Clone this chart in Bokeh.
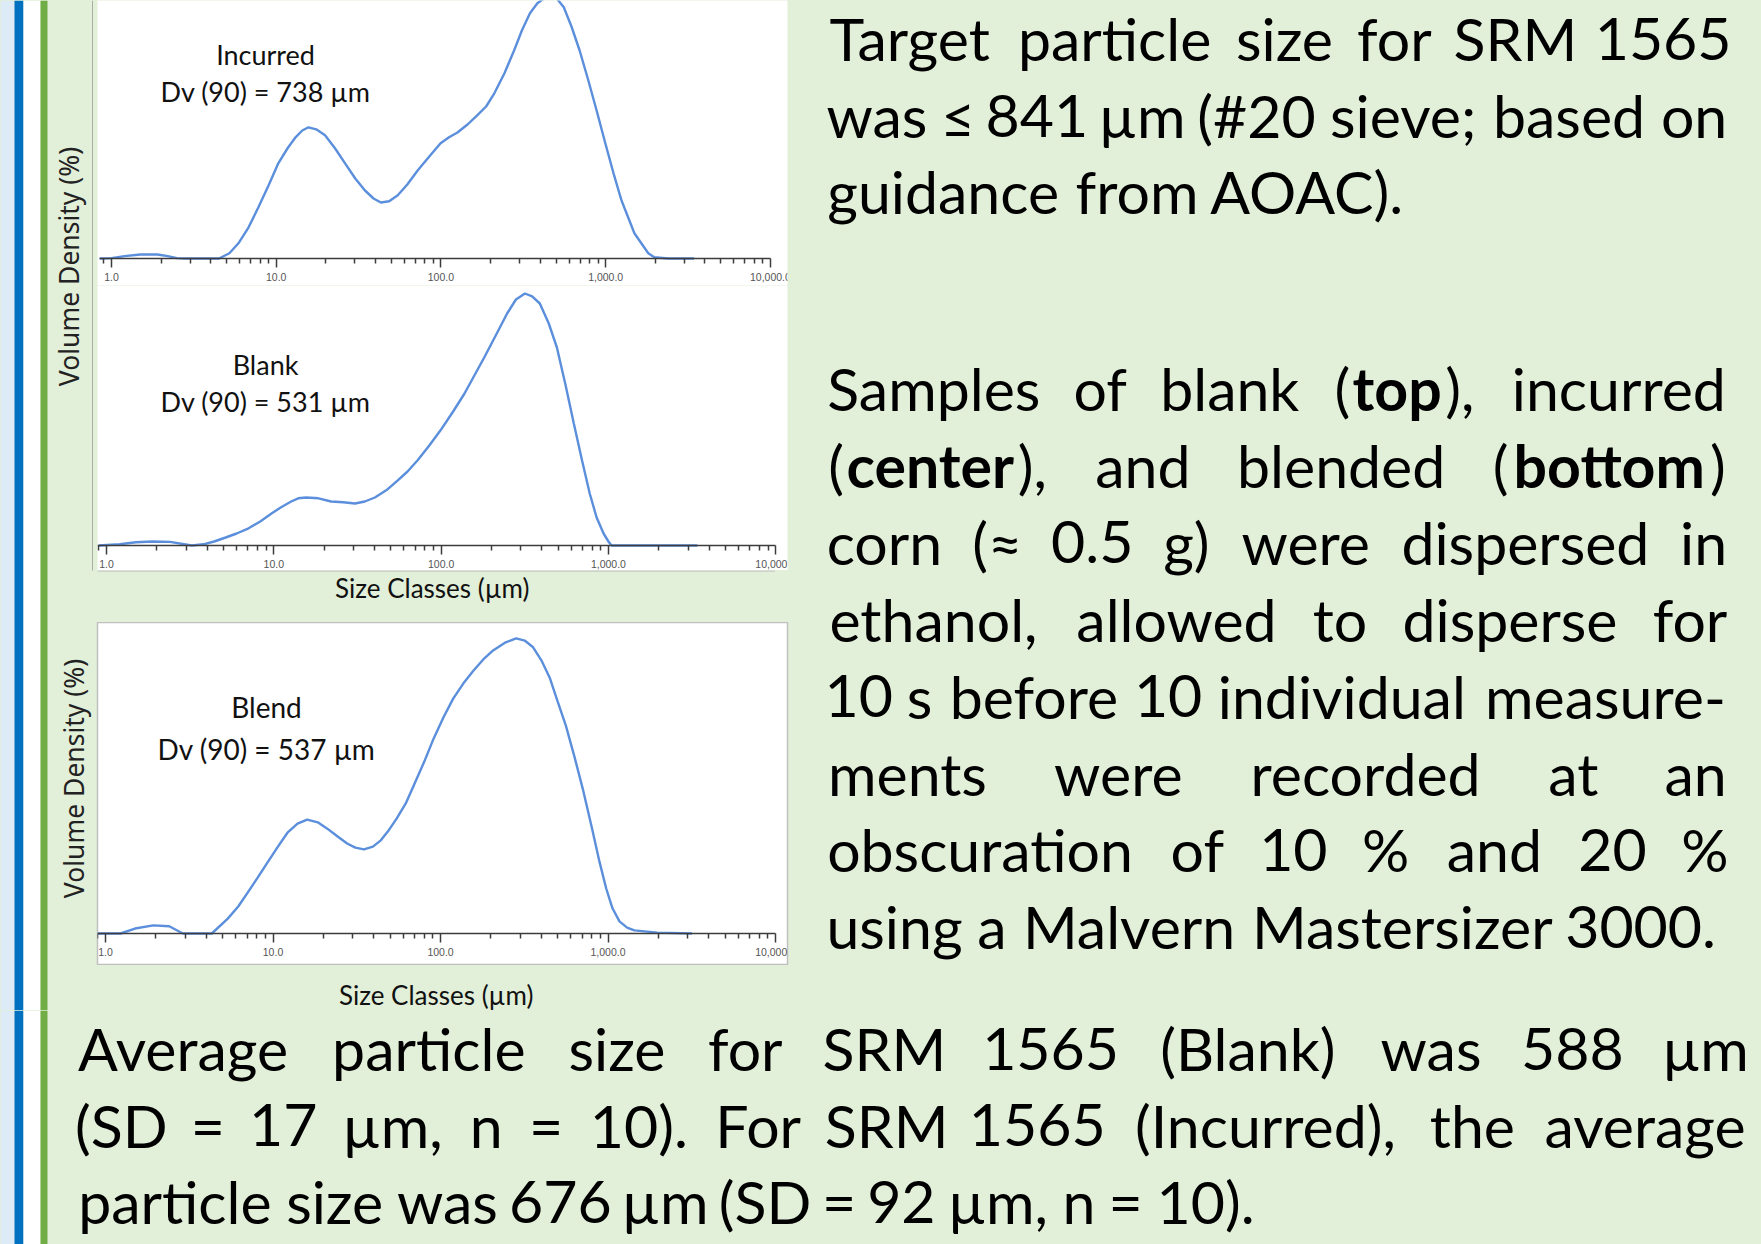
import math
from bokeh.plotting import figure
from bokeh.models import Range1d, ColumnDataSource, FixedTicker, NumeralTickFormatter
from bokeh.layouts import column, row
from bokeh.core.properties import value
from bokeh.embed import file_html
from bokeh.resources import INLINE

# ---------------- data ----------------
incurred_size = [0.85, 1.0, 1.2, 1.5, 1.9, 2.2, 2.5, 2.8, 4.5, 5.2, 5.9, 6.8, 7.8, 9.0, 10.3, 11.7,
                 13.1, 14.4, 15.7, 17.5, 19.8, 22.8, 26.2, 30.2, 34.6, 39.0, 43.2, 48.5, 54.7, 62.5,
                 72.2, 85, 99.5, 112, 126, 145, 166, 188, 211, 243, 278, 310, 347, 385, 422, 459,
                 505, 557, 620, 695, 785, 881, 995, 1116, 1248, 1494, 1814, 1973, 2400, 3442]
incurred_vd = [0, 0.01, 0.06, 0.10, 0.10, 0.06, 0.01, 0, 0, 0.13, 0.38, 0.78, 1.28, 1.83, 2.38, 2.75,
               3.03, 3.20, 3.28, 3.23, 3.08, 2.75, 2.38, 2.00, 1.70, 1.50, 1.40, 1.43, 1.58, 1.85,
               2.20, 2.55, 2.88, 3.03, 3.15, 3.35, 3.58, 3.80, 4.13, 4.63, 5.20, 5.70, 6.13, 6.38, 6.50, 6.58,
               6.50, 6.28, 5.80, 5.20, 4.45, 3.70, 2.88, 2.13, 1.45, 0.63, 0.13, 0.03, 0, 0]

blank_size = [0.9, 1.2, 1.5, 1.88, 2.4, 3.24, 3.8, 4.4, 5.16, 6.0, 7.07, 8.3, 9.69, 11.0, 12.7, 14.0,
              15.6, 18.5, 22.0, 26.0, 30.6, 35.0, 40.2, 47, 55.1, 63, 72.4, 85, 99.2, 118, 138, 158,
              181, 212, 248, 280, 317, 350, 389, 440, 492, 555, 621, 695, 773, 850, 935, 1000, 1043, 3400]
blank_vd = [0, 0.03, 0.08, 0.10, 0.09, 0, 0.03, 0.10, 0.20, 0.30, 0.43, 0.60, 0.80, 0.95, 1.10, 1.18,
            1.20, 1.18, 1.10, 1.08, 1.05, 1.10, 1.20, 1.38, 1.63, 1.85, 2.13, 2.50, 2.88, 3.35, 3.80, 4.25,
            4.70, 5.25, 5.80, 6.15, 6.30, 6.23, 6.05, 5.55, 4.95, 4.00, 3.05, 2.13, 1.30, 0.70, 0.30, 0.10, 0, 0]

blend_size = [0.9, 1.23, 1.5, 1.93, 2.4, 2.9, 4.31, 5.37, 6.2, 7.06, 8.1, 9.28, 10.7, 12.2, 14.0, 16.0,
              18.5, 21.1, 24.2, 27.7, 31, 34.9, 39.5, 44.0, 49, 54.8, 62, 69.2, 80, 90.9, 104, 119,
              137, 157, 180, 206, 245, 283, 318, 357, 400, 450, 500, 560, 630, 706, 795, 891, 975,
              1063, 1170, 1300, 1436, 1967, 3171]
blend_vd = [0, 0, 0.11, 0.18, 0.16, 0, 0, 0.33, 0.60, 0.91, 1.24, 1.58, 1.93, 2.24, 2.44, 2.53,
            2.47, 2.33, 2.16, 2.00, 1.91, 1.87, 1.93, 2.07, 2.29, 2.56, 2.89, 3.29, 3.82, 4.33, 4.80, 5.22,
            5.56, 5.84, 6.09, 6.29, 6.47, 6.56, 6.51, 6.36, 6.07, 5.67, 5.16, 4.62, 3.93, 3.22, 2.40, 1.58, 1.00,
            0.56, 0.27, 0.13, 0.07, 0.02, 0]

sample_names = ["Incurred", "Blank", "Blend"]
dv90_um = [738, 531, 537]

tick_values = [1, 10, 100, 1000, 10000]
tick_labels = ["1.0", "10.0", "100.0", "1,000.0", "10,000.0"]
minor_tick_values = [m * 10 ** d for d in range(-1, 4) for m in range(2, 10)]

x_title = "Size Classes (\u00b5m)"
y_title = "Volume Density (%)"

para1_lines = [
    "Target particle size for SRM 1565",
    "was \u2264 841 \u00b5m (#20 sieve; based on",
    "guidance from AOAC).",
]
para2_lines = [
    "Samples of blank (**top**), incurred",
    "(**center**), and blended (**bottom**)",
    "corn (\u2248 0.5 g) were dispersed in",
    "ethanol, allowed to disperse for",
    "10 s before 10 individual measure-",
    "ments were recorded at an",
    "obscuration of 10 % and 20 %",
    "using a Malvern Mastersizer 3000.",
]
para3_lines = [
    "Average particle size for SRM 1565 (Blank) was 588 \u00b5m",
    "(SD = 17 \u00b5m, n = 10). For SRM 1565 (Incurred), the average",
    "particle size was 676 \u00b5m (SD = 92 \u00b5m, n = 10).",
]

# ---------------- styles ----------------
BG = "#E2EFD9"
LIGHT_BLUE = "#DDEBF7"
BLUE = "#0070C0"
GREEN = "#70AD47"
CURVE = "#5B8FDC"
AXIS_C = "#3c3c3c"
FONT = "Lato"
BODY_PX = 59
CAL_PX = 63.5
W, H = 1761, 1244

# approximate advance widths (em) used for the justified layout
CAL = {
    'a': .479, 'b': .525, 'c': .423, 'd': .525, 'e': .498, 'f': .305, 'g': .471, 'h': .525, 'i': .229,
    'j': .239, 'k': .455, 'l': .229, 'm': .799, 'n': .525, 'o': .527, 'p': .525, 'q': .525, 'r': .349,
    's': .391, 't': .335, 'u': .525, 'v': .452, 'w': .715, 'x': .433, 'y': .453, 'z': .395,
    'A': .579, 'B': .544, 'C': .533, 'D': .615, 'E': .488, 'F': .459, 'G': .631, 'H': .623, 'I': .252,
    'K': .520, 'M': .855, 'N': .646, 'O': .662, 'R': .543, 'S': .459, 'T': .487,
    ' ': .226, '(': .303, ')': .303, '.': .252, ',': .250, ';': .268, '=': .498, '#': .498,
    '\u2264': .498, '\u2248': .498, '%': .715, '\u00b5': .525, '-': .306,
}
for d in "0123456789":
    CAL[d] = .507
CAL_B = {'t': .347, 'o': .537, 'p': .537, 'c': .418, 'e': .503, 'n': .537, 'r': .355, 'b': .537, 'm': .813}


def seg_w(t, bold):
    tot = 0.0
    for ch in t:
        if bold and ch in CAL_B:
            tot += CAL_B[ch]
        else:
            tot += CAL.get(ch, 0.5)
    return tot * CAL_PX


def layout_lines(lines, centers, left, right):
    xs, ys, texts, styles = [], [], [], []
    n = len(lines)
    for k, (line, yc) in enumerate(zip(lines, centers)):
        just = k < n - 1
        words = line.split(" ")
        wsegs = []
        for w in words:
            parts = w.split("**")
            wsegs.append([(t, i % 2 == 1) for i, t in enumerate(parts) if t])
        widths = [sum(seg_w(t, b) for t, b in s) for s in wsegs]
        if just and len(words) > 1:
            gap = (right - left - sum(widths)) / (len(words) - 1)
        else:
            gap = CAL[' '] * CAL_PX
        x = left
        for segs, wd in zip(wsegs, widths):
            sx = x
            for t, b in segs:
                sw = seg_w(t, b)
                xs.append(sx + sw / 2)
                ys.append(yc)
                texts.append(t)
                styles.append("bold" if b else "normal")
                sx += sw
            x += wd + gap
    return dict(x=xs, y=ys, text=texts, style=styles)


def plain_fig(x0, x1, y0, y1):
    p = figure(width=x1 - x0, height=y1 - y0, x_range=Range1d(x0, x1), y_range=Range1d(y1, y0),
               x_axis_location=None, y_axis_location=None, toolbar_location=None,
               output_backend="svg", min_border=0)
    p.background_fill_color = BG
    p.border_fill_color = BG
    p.outline_line_color = None
    p.grid.visible = False
    return p


def stripes(p, y0, y1):
    p.quad(left=[0], right=[14], bottom=[y1], top=[y0], color=LIGHT_BLUE, line_color=None)
    p.quad(left=[14], right=[23], bottom=[y1], top=[y0], color=BLUE, line_color=None)
    p.quad(left=[23], right=[40], bottom=[y1], top=[y0], color="white", line_color=None)
    p.quad(left=[40], right=[47], bottom=[y1], top=[y0], color=GREEN, line_color=None)


def add_body_text(p, src):
    p.text(x="x", y="y", text="text", source=ColumnDataSource(src), text_font=value(FONT),
           text_font_size=value(f"{BODY_PX}px"), text_font_style="style", text_align="center",
           text_baseline="middle", text_color="black")


def chart(sizes, vd, name, dv, height, xr, yr, bounds, borders, ann, outline=None, ann_px=27):
    p = figure(width=707, height=height, x_axis_type="log", x_range=Range1d(*xr), y_range=Range1d(*yr),
               y_axis_location=None, toolbar_location=None, output_backend="svg",
               min_border_left=borders[0], min_border_right=borders[1],
               min_border_top=borders[2], min_border_bottom=borders[3])
    p.background_fill_color = "white"
    p.border_fill_color = BG
    p.outline_line_color = outline
    p.outline_line_width = 1.5
    p.grid.visible = False
    ax = p.xaxis[0]
    ax.fixed_location = 0
    ax.bounds = bounds
    ax.ticker = FixedTicker(ticks=tick_values, minor_ticks=minor_tick_values)
    ax.formatter = NumeralTickFormatter(format="0,0.0")
    ax.major_label_overrides = {float(v): l for v, l in zip(tick_values, tick_labels)}
    ax.axis_line_color = AXIS_C
    ax.axis_line_width = 1.6
    ax.major_tick_line_color = AXIS_C
    ax.major_tick_line_width = 1.5
    ax.minor_tick_line_color = AXIS_C
    ax.minor_tick_line_width = 1.5
    ax.major_tick_in = 0
    ax.major_tick_out = 9
    ax.minor_tick_in = 0
    ax.minor_tick_out = 5
    ax.major_label_standoff = 5
    ax.major_label_text_font = "Liberation Sans"
    ax.major_label_text_font_size = "10.5px"
    ax.major_label_text_color = "#555555"
    p.line(sizes, vd, line_color=CURVE, line_width=2.4)
    p.text(x=[ann[0], ann[0]], y=[ann[1], ann[2]], text=[name, f"Dv (90) = {dv} \u00b5m"],
           text_font=value(FONT), text_font_size=value(f"{ann_px}px"), text_align="center",
           text_baseline="middle", text_color="#111111")
    return p


# ---------------- charts ----------------
c1 = chart(incurred_size, incurred_vd, sample_names[0], dv90_um[0], 285,
           (0.823, 12697), (-0.675, 6.45), (0.85, 10000), (0, 13, 0, 0), (8.62, 5.1, 4.175))
c2 = chart(blank_size, blank_vd, sample_names[1], dv90_um[1], 285,
           (0.884, 11752), (-0.625, 6.5), (0.88, 10000), (0, 13, 0, 0), (8.93, 4.525, 3.6))
lab2 = plain_fig(93, 800, 570, 622)
lab2.segment(x0=[93], x1=[787], y0=[570.5], y1=[570.5], line_color="#c8c8c8", line_width=1.5)
lab2.text(x=[436], y=[587], text=[x_title], text_font=value(FONT), text_font_size=value("26px"),
          text_align="center", text_baseline="middle", text_color="#111111")
c3 = chart(blend_size, blend_vd, sample_names[2], dv90_um[2], 343,
           (0.896, 11783), (-0.711, 6.911), (0.9, 10000), (4, 9, 0, 0), (9.15, 5.04, 4.09),
           outline="#c0c0c0", ann_px=28)
lab3 = plain_fig(93, 800, 965, 1010)
lab3.text(x=[440], y=[994], text=[x_title], text_font=value(FONT), text_font_size=value("26px"),
          text_align="center", text_baseline="middle", text_color="#111111")
charts_col = column(c1, c2, lab2, c3, lab3, styles={"background-color": BG})

# ---------------- left strip ----------------
left = plain_fig(0, 93, 0, 1010)
stripes(left, 0, 1010)
left.segment(x0=[92.3], x1=[92.3], y0=[0], y1=[570], line_color="#a8a8a8", line_width=1.5)
left.text(x=[68, 73], y=[266, 778], text=[y_title, y_title], angle=math.pi / 2,
          text_font=value("Noto Sans"), text_font_size=value("26.5px"), text_align="center",
          text_baseline="middle", text_color="#222222")

# ---------------- right text ----------------
right = plain_fig(800, W, 0, 1010)
add_body_text(right, layout_lines(para1_lines, [38, 115, 191], 826, 1727))
add_body_text(right, layout_lines(para2_lines, [388 + 76.9 * i for i in range(8)], 826, 1727))

# ---------------- bottom text ----------------
bottom = plain_fig(0, W, 1010, H)
stripes(bottom, 1010, H)
add_body_text(bottom, layout_lines(para3_lines, [1048, 1124.5, 1201], 77, 1747))

page = column(row(left, charts_col, right, styles={"background-color": BG}), bottom,
              styles={"background-color": BG})

open("out.html", "w").write(file_html(page, INLINE))
